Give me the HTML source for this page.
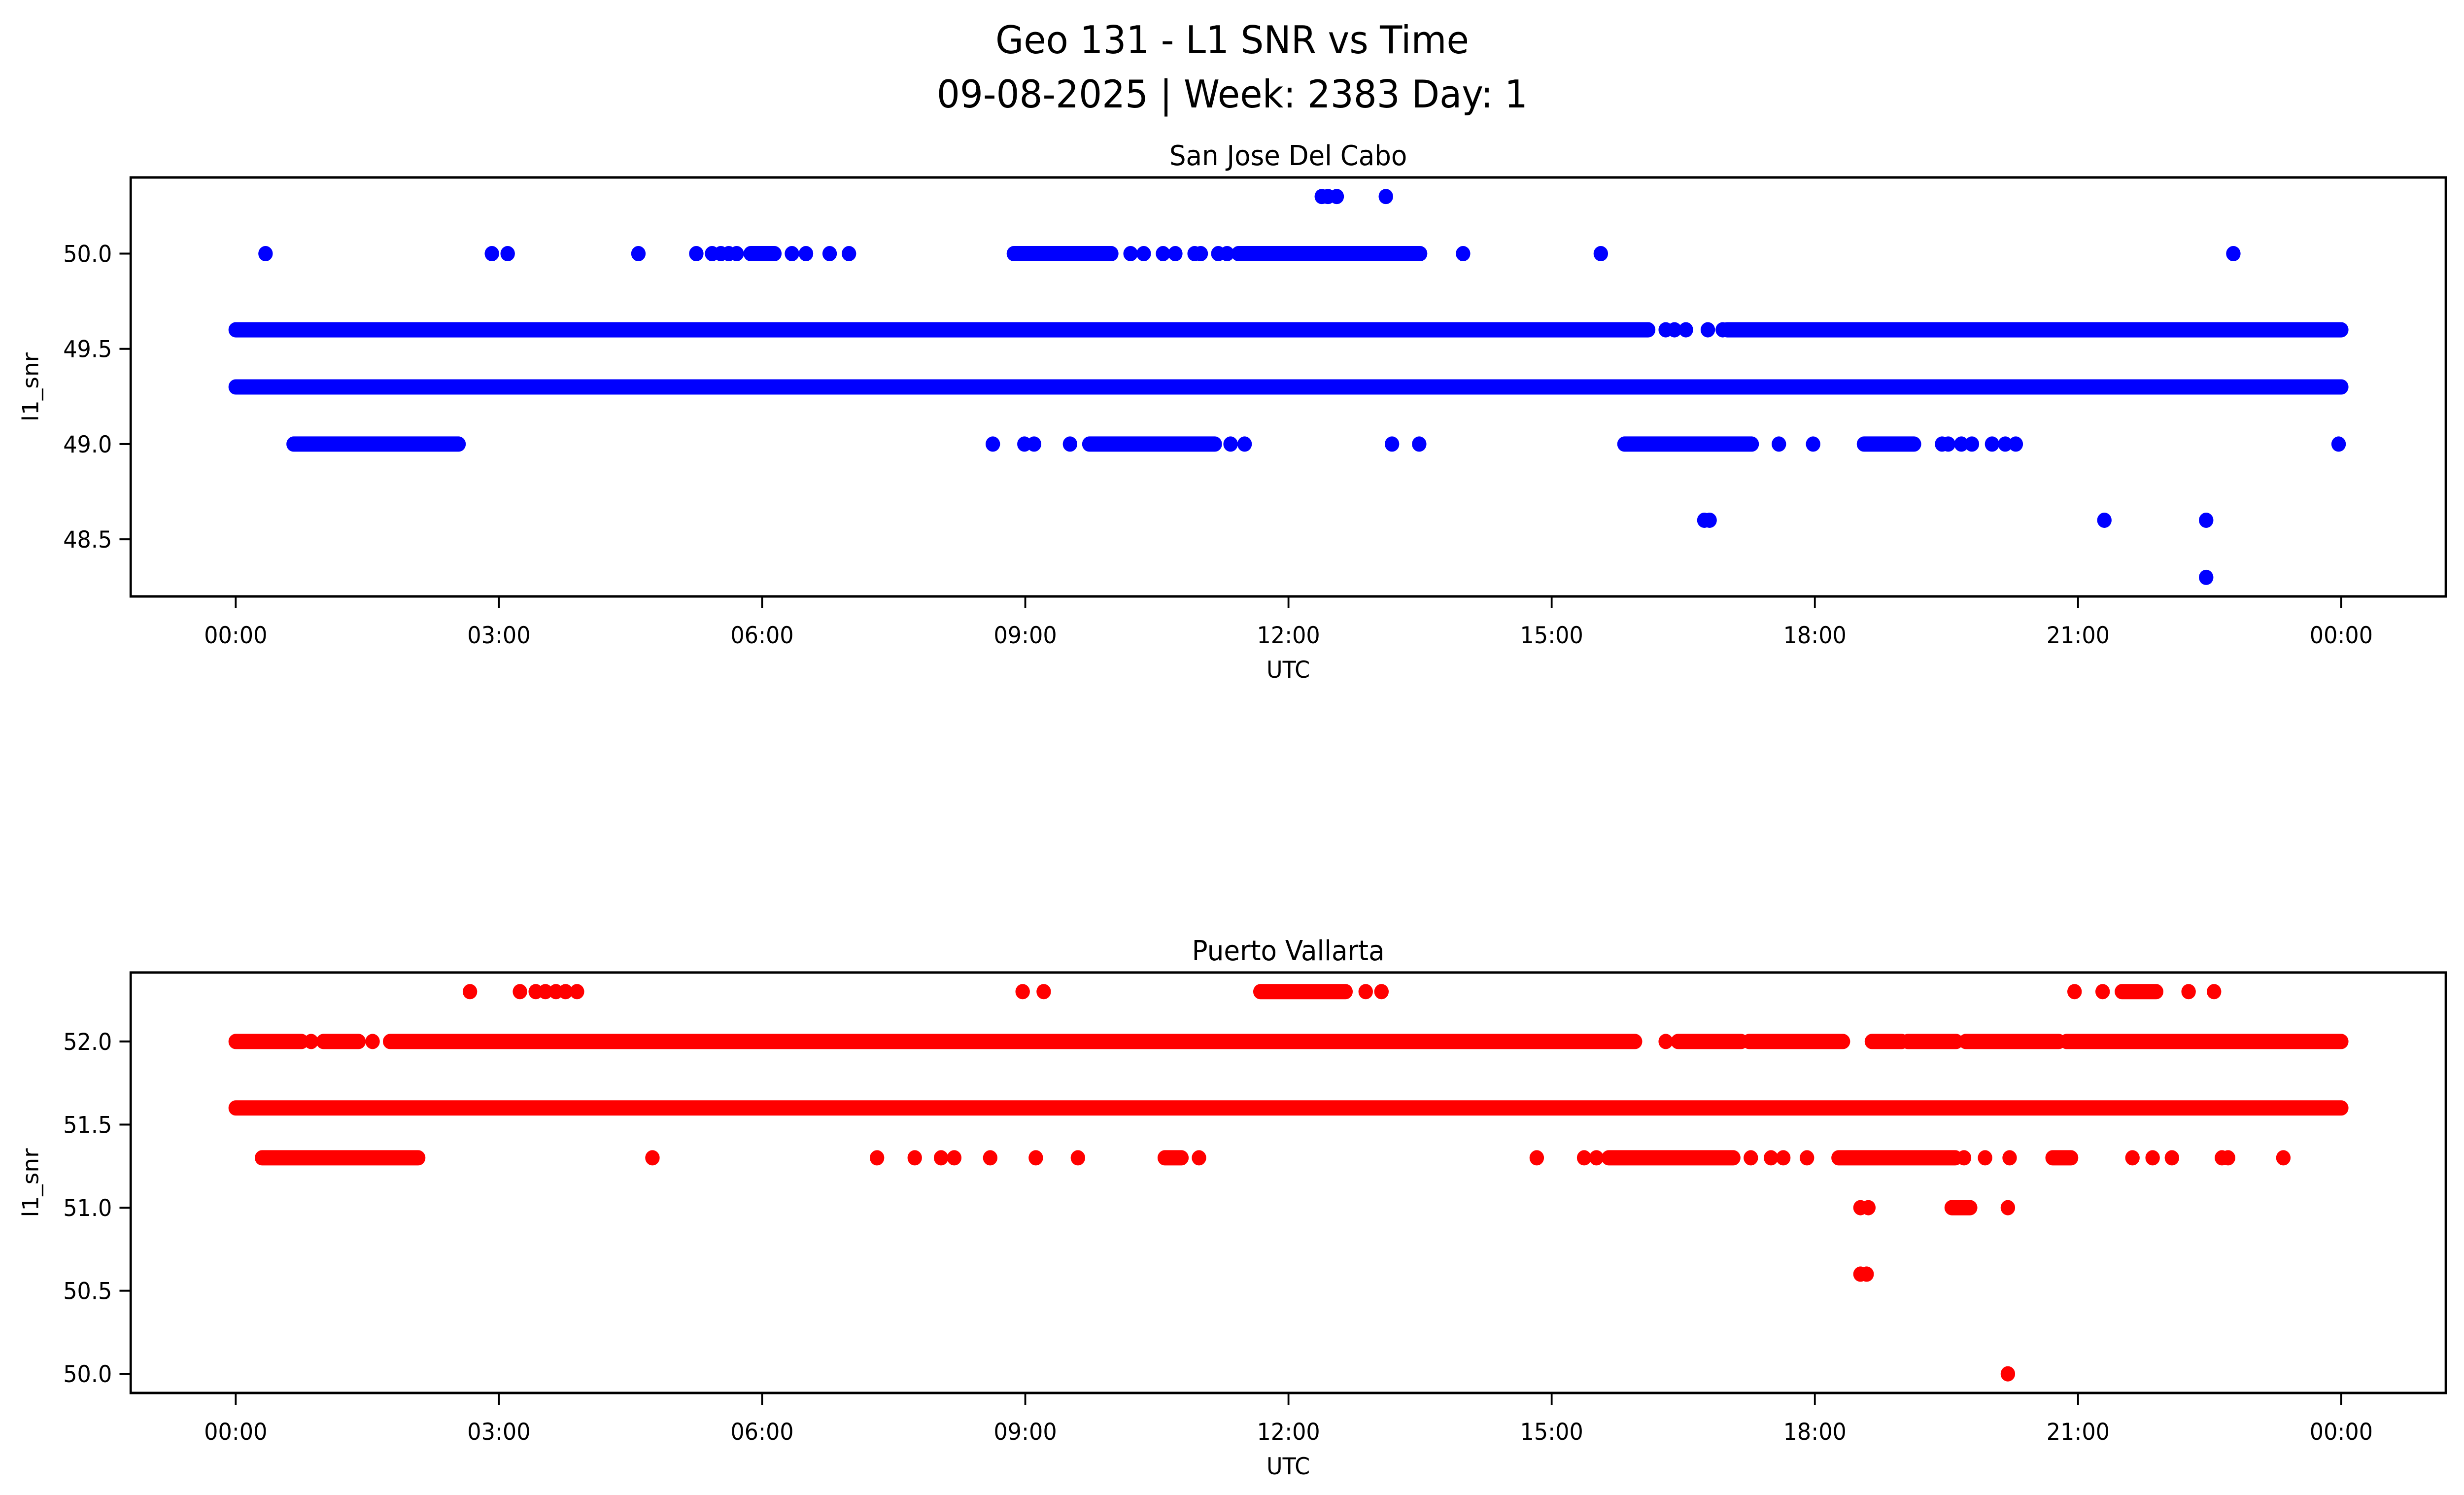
<!DOCTYPE html>
<html><head><meta charset="utf-8">
<style>
html,body{margin:0;padding:0;background:#fff;overflow:hidden;width:100%;height:100%;}
svg{display:block;position:fixed;left:0;top:0;width:100vw;height:100vh;font-family:"DejaVu Sans","Liberation Sans",sans-serif;}
</style></head>
<body>
<svg id="fig" viewBox="0 0 5279 3033" preserveAspectRatio="none" xmlns="http://www.w3.org/2000/svg">
<rect width="5279" height="3033" fill="#fff"/>
<text x="2640" y="108" font-size="78" text-anchor="middle">Geo 131 - L1 SNR vs Time</text>
<text x="2640" y="218" font-size="78" text-anchor="middle">09-08-2025 | Week: 2383 Day: 1</text>
</svg>
<script>
// ---- data (hours UTC, snr) ----
// top: San Jose Del Cabo
const topRunStart = [0, 0, 17.0, 11.43, 5.87, 8.87, 0.66, 9.73, 15.83, 18.56];
const topRunEnd   = [24, 16.1, 24, 13.5, 6.14, 9.98, 2.54, 11.16, 17.28, 19.13];
const topRunValue = [49.3, 49.6, 49.6, 50.0, 50.0, 50.0, 49.0, 49.0, 49.0, 49.0];
const topPtTime = [12.38,12.45,12.55,13.11, 0.34,2.92,3.1,4.59,5.25,5.43,5.53,5.62,5.71,6.34,6.5,6.77,6.99,10.2,10.35,10.57,10.71,10.93,11.0,11.2,11.3,13.99,15.56,22.77,
  16.3,16.4,16.53,16.78,16.95,
  8.63,8.99,9.1,9.51,11.34,11.5,13.18,13.49,17.59,17.98,19.45,19.52,19.67,19.79,20.02,20.17,20.29,23.97,
  16.74,16.8,21.3,22.46,22.46];
const topPtValue = [50.3,50.3,50.3,50.3, 50,50,50,50,50,50,50,50,50,50,50,50,50,50,50,50,50,50,50,50,50,50,50,50,
  49.6,49.6,49.6,49.6,49.6,
  49,49,49,49,49,49,49,49,49,49,49,49,49,49,49,49,49,49,
  48.6,48.6,48.6,48.6,48.3];
// bottom: Puerto Vallarta
const botRunStart = [0, 0, 1.0, 1.76, 16.44, 17.25, 18.65, 19.06, 19.72, 20.87, 11.68, 21.5, 0.3, 15.65, 18.27, 10.59, 19.56, 20.71];
const botRunEnd   = [24, 0.75, 1.4, 15.95, 17.16, 18.32, 18.99, 19.61, 20.78, 24, 12.65, 21.89, 2.08, 17.07, 19.6, 10.78, 19.77, 20.92];
const botRunValue = [51.6, 52, 52, 52, 52, 52, 52, 52, 52, 52, 52.3, 52.3, 51.3, 51.3, 51.3, 51.3, 51.0, 51.3];
const botPtTime = [0.86,1.56,16.3, 2.67,3.24,3.42,3.53,3.65,3.76,3.89,8.97,9.21,12.88,13.06,20.96,21.28,22.26,22.55,
  4.75,7.31,7.74,8.04,8.19,8.6,9.12,9.6,10.98,14.83,15.37,15.51,17.27,17.5,17.64,17.91,19.7,19.94,20.22,21.62,21.85,22.07,22.64,22.71,23.34,
  18.52,18.61,20.2, 18.52,18.59, 20.2];
const botPtValue = [52,52,52, 52.3,52.3,52.3,52.3,52.3,52.3,52.3,52.3,52.3,52.3,52.3,52.3,52.3,52.3,52.3,
  51.3,51.3,51.3,51.3,51.3,51.3,51.3,51.3,51.3,51.3,51.3,51.3,51.3,51.3,51.3,51.3,51.3,51.3,51.3,51.3,51.3,51.3,51.3,51.3,51.3,
  51,51,51, 50.6,50.6, 50.0];
const xTickHours = [0,3,6,9,12,15,18,21,24];
const xTickLabels = ["00:00","03:00","06:00","09:00","12:00","15:00","18:00","21:00","00:00"];
const topYTicks = [48.5,49.0,49.5,50.0];
const botYTicks = [50.0,50.5,51.0,51.5,52.0];

const NS="http://www.w3.org/2000/svg";
const svg=document.getElementById('fig');
function mk(tag,attrs,parent){const e=document.createElementNS(NS,tag);for(const k in attrs)e.setAttribute(k,attrs[k]);(parent||svg).appendChild(e);return e;}
const L=280,R=5240,H0=505,H24=5016;
function xs(h){return H0+(H24-H0)*h/24;}
const RAD=15.5;

function panel(cfg){
  const g=mk('g',{});
  
  
  const ys=v=>cfg.bottom-(v-cfg.ymin)/(cfg.ymax-cfg.ymin)*(cfg.bottom-cfg.top);
  for(let i=0;i<cfg.rs.length;i++){
    const ln=mk('line',{x1:xs(cfg.rs[i]),x2:xs(cfg.re[i]),y1:ys(cfg.rv[i]),y2:ys(cfg.rv[i]),stroke:cfg.color,'stroke-width':RAD*2,'stroke-linecap':'round'},g);
    
    
  }
  for(let i=0;i<cfg.pt.length;i++){
    const c=mk('circle',{cx:xs(cfg.pt[i]),cy:ys(cfg.pv[i]),r:RAD,fill:cfg.color},g);
    
    
  }
  const fr=mk('rect',{x:L,y:cfg.top,width:R-L,height:cfg.bottom-cfg.top,fill:'none',stroke:'#000','stroke-width':5},g);
  
  
  for(let i=0;i<xTickHours.length;i++){
    const x=xs(xTickHours[i]);
    const t=mk('line',{x1:x,x2:x,y1:cfg.bottom,y2:cfg.bottom+24,stroke:'#000','stroke-width':4},g);
    
    
    const tx=mk('text',{x:x,y:cfg.bottom+95,'font-size':47,'text-anchor':'middle'},g);
    tx.textContent=xTickLabels[i];
    
    
  }
  for(const v of cfg.yt){
    const y=ys(v);
    const t=mk('line',{x1:L-24,x2:L,y1:y,y2:y,stroke:'#000','stroke-width':4},g);
    
    
    const tx=mk('text',{x:L-40,y:y+17,'font-size':47,'text-anchor':'end'},g);
    tx.textContent=v.toFixed(1);
    
    
  }
  const xl=mk('text',{x:(L+R)/2,y:cfg.bottom+165,'font-size':47,'text-anchor':'middle'},g);
  xl.textContent='UTC';
  
  
  const cy=(cfg.top+cfg.bottom)/2;
  const yl=mk('text',{x:82,y:cy,'font-size':47,'text-anchor':'middle',transform:`rotate(-90 82 ${cy})`},g);
  yl.textContent='l1_snr';
  
  
  const ti=mk('text',{x:(L+R)/2,y:cfg.top-25,'font-size':56,'text-anchor':'middle'},g);
  ti.textContent=cfg.title;
  
  
}
panel({name:'san-jose-del-cabo-panel',title:'San Jose Del Cabo',top:360,bottom:1210,ymin:48.2,ymax:50.4,color:'#0000ff',
  rs:topRunStart,re:topRunEnd,rv:topRunValue,pt:topPtTime,pv:topPtValue,yt:topYTicks});
panel({name:'puerto-vallarta-panel',title:'Puerto Vallarta',top:1973,bottom:2826,ymin:49.885,ymax:52.415,color:'#ff0000',
  rs:botRunStart,re:botRunEnd,rv:botRunValue,pt:botPtTime,pv:botPtValue,yt:botYTicks});
</script>
</body></html>
